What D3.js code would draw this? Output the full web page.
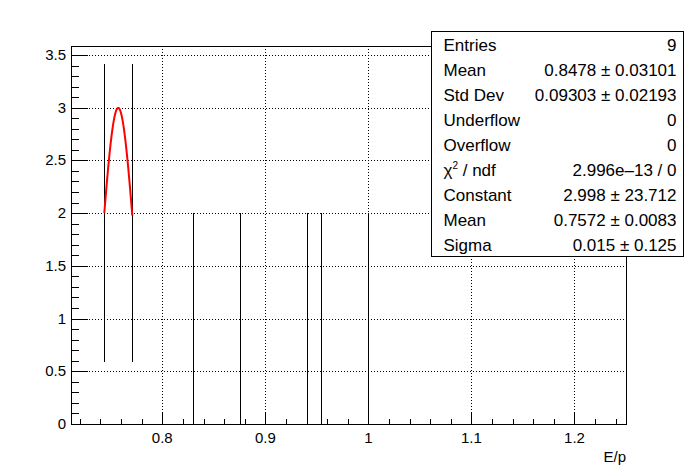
<!DOCTYPE html>
<html>
<head>
<meta charset="utf-8">
<script src="https://cdn.jsdelivr.net/npm/d3@7"></script>
<style>
  body { margin: 0; background: #fff; }
  svg { font-family: "Liberation Sans", Arial, sans-serif; }
  .grid line { stroke: #000; stroke-width: 1; stroke-dasharray: 1,2; }
  .axis path, .axis line { stroke: #000; shape-rendering: crispEdges; }
  .axis text { font-size: 15px; fill: #000; }
</style>
</head>
<body>
<svg id="chart" width="696" height="472"></svg>
<script>
// histogram bins (E/p), content and error per bin
const binCenters = [0.7437, 0.7709, 0.8301, 0.8757, 0.9408, 0.9544, 1.0];
const binCounts  = [2, 2, 1, 1, 1, 1, 1];
const binErrors  = [1.414, 1.414, 1, 1, 1, 1, 1];

// gaus fit result and its range
const fitConstant = 2.998, fitMean = 0.7572, fitSigma = 0.015;
const fitRange = [0.7437, 0.7709];

const xTicks = [0.8, 0.9, 1, 1.1, 1.2];
const yTicks = [0, 0.5, 1, 1.5, 2, 2.5, 3, 3.5];

const statLabels = ["Entries", "Mean", "Std Dev", "Underflow", "Overflow", "chi2", "Constant", "Mean", "Sigma"];
const statValues = ["9", "0.8478 \u00b1 0.03101", "0.09303 \u00b1 0.02193", "0", "0", "2.996e\u201313 / 0",
                    "2.998 \u00b1 23.712", "0.7572 \u00b1 0.0083", "0.015 \u00b1 0.125"];

let margin = {top: 46, right: 70, bottom: 48, left: 71},
    width = 696 - margin.left - margin.right,
    height = 472 - margin.top - margin.bottom;

let svg = d3.select("#chart");
let g = svg.append("g").attr("transform", "translate(" + margin.left + "," + margin.top + ")");

let xScale = d3.scaleLinear().domain([0.7114, 1.25]).range([0, width]);
let yScale = d3.scaleLinear().domain([0, 3.585]).range([height, 0]);

// dotted grid
let grid = g.append("g").attr("class", "grid");
grid.selectAll(".gx").data(xTicks).enter().append("line")
    .attr("x1", d => Math.round(xScale(d)) + 0.5).attr("x2", d => Math.round(xScale(d)) + 0.5)
    .attr("y1", 0).attr("y2", height);
grid.selectAll(".gy").data(yTicks.filter(d => d > 0)).enter().append("line")
    .attr("y1", d => Math.round(yScale(d)) + 0.5).attr("y2", d => Math.round(yScale(d)) + 0.5)
    .attr("x1", 0).attr("x2", width);

// minor ticks
let xMinor = d3.range(0.72, 1.25, 0.02).filter(v => Math.abs(v * 10 - Math.round(v * 10)) > 1e-6);
let yMinor = d3.range(0.1, 3.585, 0.1).filter(v => Math.abs(v * 2 - Math.round(v * 2)) > 1e-6);

g.append("g").attr("class", "axis")
    .attr("transform", "translate(0," + height + ")")
    .call(d3.axisTop(xScale).tickValues(xMinor).tickSize(5).tickFormat(""))
    .call(a => a.select(".domain").remove());
g.append("g").attr("class", "axis")
    .call(d3.axisRight(yScale).tickValues(yMinor).tickSize(8).tickFormat(""))
    .call(a => a.select(".domain").remove());

// major ticks + labels
g.append("g").attr("class", "axis")
    .attr("transform", "translate(0," + height + ")")
    .call(d3.axisTop(xScale).tickValues(xTicks).tickSize(11).tickFormat(""))
    .call(a => a.select(".domain").remove());
g.append("g").attr("class", "axis")
    .call(d3.axisRight(yScale).tickValues(yTicks).tickSize(17).tickFormat(""))
    .call(a => a.select(".domain").remove());

g.append("g").attr("class", "axis")
    .selectAll("text").data(xTicks).enter().append("text")
    .attr("x", d => xScale(d)).attr("y", height + 19)
    .attr("text-anchor", "middle")
    .text(d => d3.format("")(d));
g.append("g").attr("class", "axis")
    .selectAll("text").data(yTicks).enter().append("text")
    .attr("x", -5).attr("y", d => yScale(d) + 5)
    .attr("text-anchor", "end")
    .text(d => d3.format("")(d));

g.append("text")
    .attr("x", width).attr("y", height + 38)
    .attr("text-anchor", "end")
    .style("font-size", "15px")
    .text("E/p");

// frame
g.append("rect")
    .attr("x", 0.5).attr("y", 0.5).attr("width", width).attr("height", height)
    .attr("fill", "none").attr("stroke", "#000")
    .style("shape-rendering", "crispEdges");

// error bars
g.selectAll(".err").data(binCenters).enter().append("line")
    .attr("class", "err")
    .attr("x1", d => Math.round(xScale(d)) + 0.5).attr("x2", d => Math.round(xScale(d)) + 0.5)
    .attr("y1", (d, i) => yScale(Math.max(0, binCounts[i] - binErrors[i])))
    .attr("y2", (d, i) => yScale(binCounts[i] + binErrors[i]))
    .attr("stroke", "#000").attr("stroke-width", 1)
    .style("shape-rendering", "crispEdges");

// fit curve
let fitX = d3.range(0, 101).map(i => fitRange[0] + (fitRange[1] - fitRange[0]) * i / 100);
let gaus = x => fitConstant * Math.exp(-0.5 * Math.pow((x - fitMean) / fitSigma, 2));
let fitLine = d3.line()
    .x(d => xScale(d))
    .y(d => yScale(gaus(d)));
g.append("path")
    .datum(fitX)
    .attr("d", fitLine)
    .attr("fill", "none")
    .attr("stroke", "#ff0000")
    .attr("stroke-width", 2);

// stats box
let box = svg.append("g").attr("transform", "translate(431.5,31.5)");
box.append("rect")
    .attr("width", 252).attr("height", 225)
    .attr("fill", "#fff").attr("stroke", "#000")
    .style("shape-rendering", "crispEdges");

let rows = box.selectAll(".row").data(statLabels).enter().append("g")
    .attr("transform", (d, i) => "translate(0," + (i * 25 + 19) + ")")
    .style("font-size", "17px");

rows.append("text")
    .attr("x", 12)
    .each(function (d) {
        let t = d3.select(this);
        if (d === "chi2") {
            t.append("tspan").text("\u03c7");
            t.append("tspan").attr("dy", -7).style("font-size", "10px").text("2");
            t.append("tspan").attr("dy", 7).text(" / ndf");
        } else {
            t.text(d);
        }
    });
rows.append("text")
    .attr("x", 245)
    .attr("text-anchor", "end")
    .text((d, i) => statValues[i]);
</script>
</body>
</html>
